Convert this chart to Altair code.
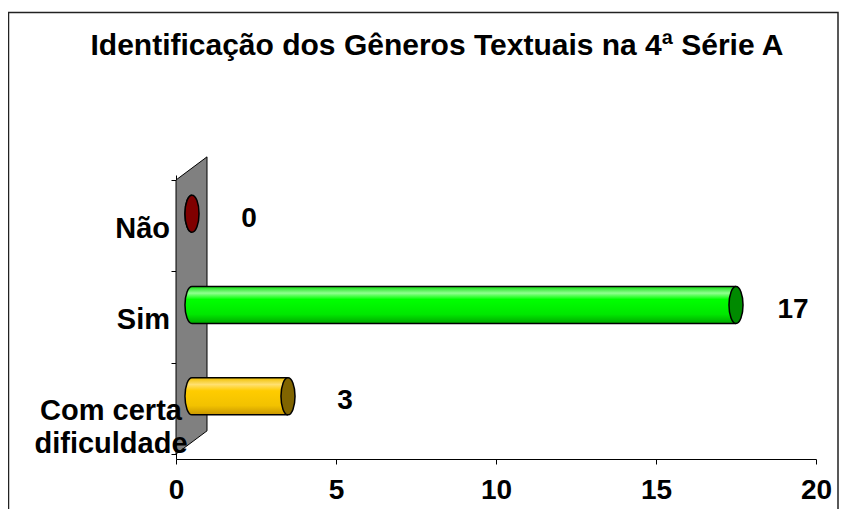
import altair as alt
import pandas as pd

# ---------------- data ----------------
categories = ["Não", "Sim", "Com certa\ndificuldade"]
values = [0, 17, 3]
x_ticks = [0, 5, 10, 15, 20]
title_text = "Identificação dos Gêneros Textuais na 4ª Série A"

# ---------------- styles ----------------
FONT = "Liberation Sans"
cap_colors = ["#800000", "#008a00", "#806400"]
body_stops = {
    "Não": ["#b00000", "#e04040", "#c00000", "#a00000", "#700000"],
    "Sim": ["#10e010", "#90ff90", "#00ff00", "#00e800", "#00a800"],
    "Com certa\ndificuldade": ["#f0c000", "#ffe070", "#ffcc00", "#f2c200", "#c89600"],
}
stop_offsets = [0.0, 0.18, 0.35, 0.75, 1.0]

W, H = 640, 284
X_MAX = 20
px_per_x = W / X_MAX
px_per_y = H / len(categories)
DEPTH_DX, DEPTH_DY = 31, 24           # 3-D depth of the back wall (px)
BAR_DX, BAR_DY = 16, -12              # bars sit in the middle of the depth
BAR_H = 37
CAP_RX = 0.38                          # ellipse x-radius in symbol units

ELLIPSE = f"M0,-1 A{CAP_RX},1 0 1,1 0,1 A{CAP_RX},1 0 1,1 0,-1 Z"
LEFT_HALF = f"M0,-1 A{CAP_RX},1 0 0,0 0,1"

n = len(categories)
df = pd.DataFrame({
    "cat": categories,
    "value": values,
    "pos": [n - i - 0.5 for i in range(n)],
    "start": [0] * n,
    "multiline": ["\n" in c for c in categories],
})

xscale = alt.Scale(domain=[0, X_MAX], nice=False, zero=True)
yscale = alt.Scale(domain=[0, n], nice=False, zero=True)
XAXIS = alt.Axis(values=x_ticks, title="", grid=False, tickSize=5,
                 tickColor="black", domainColor="black", labelColor="black",
                 labelFont=FONT, labelFontSize=28, labelFontWeight="bold",
                 labelPadding=12, labelFlush=False, labelOverlap=False)
YAXIS = alt.Axis(values=list(range(n + 1)), title="", grid=False, labels=False,
                 tickSize=5, tickColor="black", domainColor="black")

base = alt.Chart(df)

# back wall (parallelogram)
wall_df = pd.DataFrame({
    "x": [0, DEPTH_DX / px_per_x],
    "y": [0, DEPTH_DY / px_per_y],
    "y2": [n, n + DEPTH_DY / px_per_y],
})
wall = alt.Chart(wall_df).mark_area(
    orient="vertical", fill="#808080", stroke="#000000", strokeWidth=1, clip=False
).encode(
    x=alt.X("x:Q", scale=xscale, axis=XAXIS),
    y=alt.Y("y:Q", scale=yscale, axis=YAXIS),
    y2="y2:Q",
)

layers = [wall]

def grad(colors):
    return alt.LinearGradient(
        gradient="linear", x1=0, y1=0, x2=0, y2=1,
        stops=[alt.GradientStop(offset=o, color=c) for o, c in zip(stop_offsets, colors)],
    )

X0 = alt.X("start:Q", scale=xscale, axis=XAXIS)
XV = alt.X("value:Q", scale=xscale, axis=XAXIS)
YP = alt.Y("pos:Q", scale=yscale, axis=YAXIS)

for cat in categories:
    sub = base.transform_filter(alt.datum.cat == cat)
    g = grad(body_stops[cat])
    body = sub.mark_bar(orient="horizontal", size=BAR_H, fill=g, strokeWidth=0,
                        xOffset=BAR_DX, x2Offset=BAR_DX, yOffset=BAR_DY,
                        clip=False).encode(x=X0, x2="value:Q", y=YP)
    left = sub.mark_point(shape=LEFT_HALF, size=BAR_H * BAR_H, fill=g, filled=True,
                          fillOpacity=1, opacity=1, stroke="black", strokeWidth=1.5,
                          xOffset=BAR_DX, yOffset=BAR_DY, clip=False).encode(x=X0, y=YP)
    layers += [body, left]

for off in (-BAR_H / 2, BAR_H / 2):
    layers.append(base.mark_rule(color="black", strokeWidth=1.5,
                                 xOffset=BAR_DX, x2Offset=BAR_DX,
                                 yOffset=BAR_DY + off, clip=False).encode(
        x=X0, x2="value:Q", y=YP))

caps = base.mark_point(shape=ELLIPSE, size=BAR_H * BAR_H, filled=True, fillOpacity=1,
                       opacity=1, stroke="black", strokeWidth=1.5,
                       xOffset=BAR_DX, yOffset=BAR_DY, clip=False).encode(
    x=XV, y=YP,
    fill=alt.Fill("cat:N", scale=alt.Scale(domain=categories, range=cap_colors), legend=None),
)
layers.append(caps)

value_labels = base.mark_text(font=FONT, fontSize=28, fontWeight="bold", color="black",
                              align="center", baseline="middle",
                              xOffset=BAR_DX, dx=57, yOffset=BAR_DY, dy=5).encode(
    x=XV, y=YP, text="value:Q")
layers.append(value_labels)

cat_single = base.transform_filter("!datum.multiline").mark_text(
    font=FONT, fontSize=29, fontWeight="bold", color="black",
    align="right", baseline="middle", dx=-6, dy=3).encode(x=X0, y=YP, text="cat:N")
cat_multi = base.transform_filter("datum.multiline").mark_text(
    font=FONT, fontSize=29, fontWeight="bold", color="black", lineBreak="\n",
    lineHeight=33, align="center", baseline="middle", dx=-65, dy=3).encode(
    x=X0, y=YP, text="cat:N")
layers += [cat_single, cat_multi]

title = alt.Chart(pd.DataFrame({"t": [title_text]})).mark_text(
    font=FONT, fontSize=30, fontWeight="bold", color="black",
    align="center", baseline="alphabetic").encode(
    x=alt.value(261), y=alt.value(-120), text="t:N")
border = alt.Chart(pd.DataFrame({"b": [1]})).mark_rect(
    fillOpacity=0, stroke="#222222", strokeWidth=1.5, clip=False).encode(
    x=alt.value(-167.5), x2=alt.value(662), y=alt.value(-162.5), y2=alt.value(360))
layers = [border, title] + layers

chart = alt.layer(*layers).properties(
    width=W, height=H,
    padding={"left": 168, "top": 167, "right": 28, "bottom": 50},
    autosize=alt.AutoSizeParams(type="none"),
    background="white",
).configure_view(stroke=None)

chart.save("out.html", embed_options={"renderer": "svg", "actions": False})
